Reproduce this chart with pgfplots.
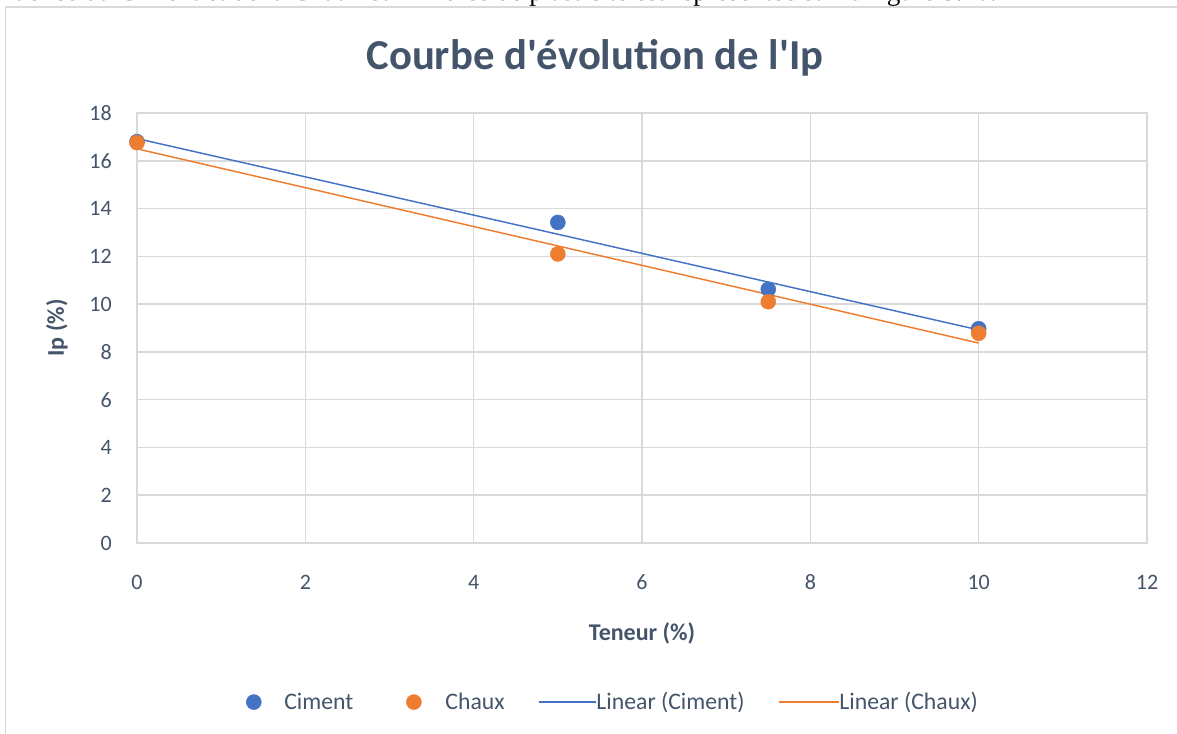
\documentclass[border=0pt]{standalone}
\usepackage{pgfplots}
\pgfplotsset{compat=1.18}
\usepackage{fontspec}
\setmainfont{Carlito}
\newfontfamily\serifdoc{Liberation Serif}
\definecolor{cblue}{HTML}{4472C4}
\definecolor{corange}{HTML}{ED7D31}
\definecolor{gridc}{HTML}{D9D9D9}
\definecolor{txt}{HTML}{44546A}
\pgfplotsset{
  legA/.style={legend image code/.code={\path[draw=none,fill=none] (0pt,0pt) -- (28.5pt,0pt); \path[##1] plot coordinates {(5.6pt,0pt)};}},
  legB/.style={legend image code/.code={\path[draw=none,fill=none] (0pt,0pt) -- (44pt,0pt); \path[##1] plot coordinates {(20.35pt,0pt)};}},
  legC/.style={legend image code/.code={\draw[##1] (0pt,0pt) -- (42.75pt,0pt);}},
  legD/.style={legend image code/.code={\draw[##1] (0pt,0pt) -- (45pt,0pt);}},
}
\begin{document}
\begin{tikzpicture}
\useasboundingbox (0,0) rectangle (882.75pt,550.5pt);
\begin{scope}
\clip (0,0) rectangle (882.75pt,550.5pt);
\draw[gridc, line width=1.1pt] (4.1pt,-10pt) -- (4.1pt,545.25pt) -- (900pt,545.25pt);
\node[anchor=base east, inner sep=0pt, font=\serifdoc\fontsize{20.5}{24}\selectfont] at (747.75pt,550.2pt) {l'influence du Ciment et de la Chaux sur l'indice de plasticité est représentée sur la figure 3.20.};
\end{scope}
\begin{axis}[
  at={(102.75pt,143.25pt)}, anchor=south west,
  scale only axis, width=757.5pt, height=322.5pt,
  xmin=0, xmax=12, ymin=0, ymax=18,
  xtick={0,2,...,12}, ytick={0,2,...,18},
  grid=major, major grid style={gridc, line width=1.1pt},
  axis line style={gridc, line width=1.1pt},
  major tick length=0pt,
  tick label style={font=\fontsize{16.5}{20}\selectfont, text=txt},
  /pgf/number format/assume math mode=true,
  xticklabel style={anchor=base, yshift=-35.25pt, inner sep=0pt},
  yticklabel style={anchor=east, xshift=-18.75pt, inner sep=0pt},
  title={Courbe d\textquotesingle évolution de l\textquotesingle Ip},
  every axis title/.style={at={(axis description cs:0.4535,1.1)}, anchor=base, font=\bfseries\fontsize{32}{38}\selectfont, text=txt, inner sep=0pt},
  xlabel={Teneur (\%)}, ylabel={Ip (\%)},
  every axis x label/.style={at={(axis description cs:0.5,-0.2256)}, anchor=base, font=\bfseries\fontsize{18}{21}\selectfont, text=txt, inner sep=0pt},
  every axis y label/.style={at={(axis description cs:-0.0723,0.5)}, rotate=90, anchor=base, font=\bfseries\fontsize{18}{21}\selectfont, text=txt, inner sep=0pt},
  legend columns=4,
  legend style={at={(0.108,-0.370)}, anchor=west, draw=none, fill=none, inner sep=0pt,
    font=\fontsize{17.8}{21}\selectfont, text=txt, nodes={inner sep=0pt},
    column sep=0pt, /tikz/every even column/.append style={column sep=25pt}},
  legend cell align=left,
]
\addplot[only marks, mark=*, mark size=5.6pt, color=cblue, legA]
  coordinates {(0,16.8) (5,13.42) (7.5,10.62) (10,8.97)};
\addlegendentry{Ciment}
\addplot[only marks, mark=*, mark size=5.6pt, color=corange, legB]
  coordinates {(0,16.76) (5,12.1) (7.5,10.1) (10,8.78)};
\addlegendentry{Chaux}
\addplot[no marks, color=cblue, line width=1.1pt, legC]
  coordinates {(0,16.93) (10,8.92)};
\addlegendentry{Linear (Ciment)}
\addplot[no marks, color=corange, line width=1.1pt, legD]
  coordinates {(0,16.5) (10,8.37)};
\addlegendentry{Linear (Chaux)}
\end{axis}
\end{tikzpicture}
\end{document}
